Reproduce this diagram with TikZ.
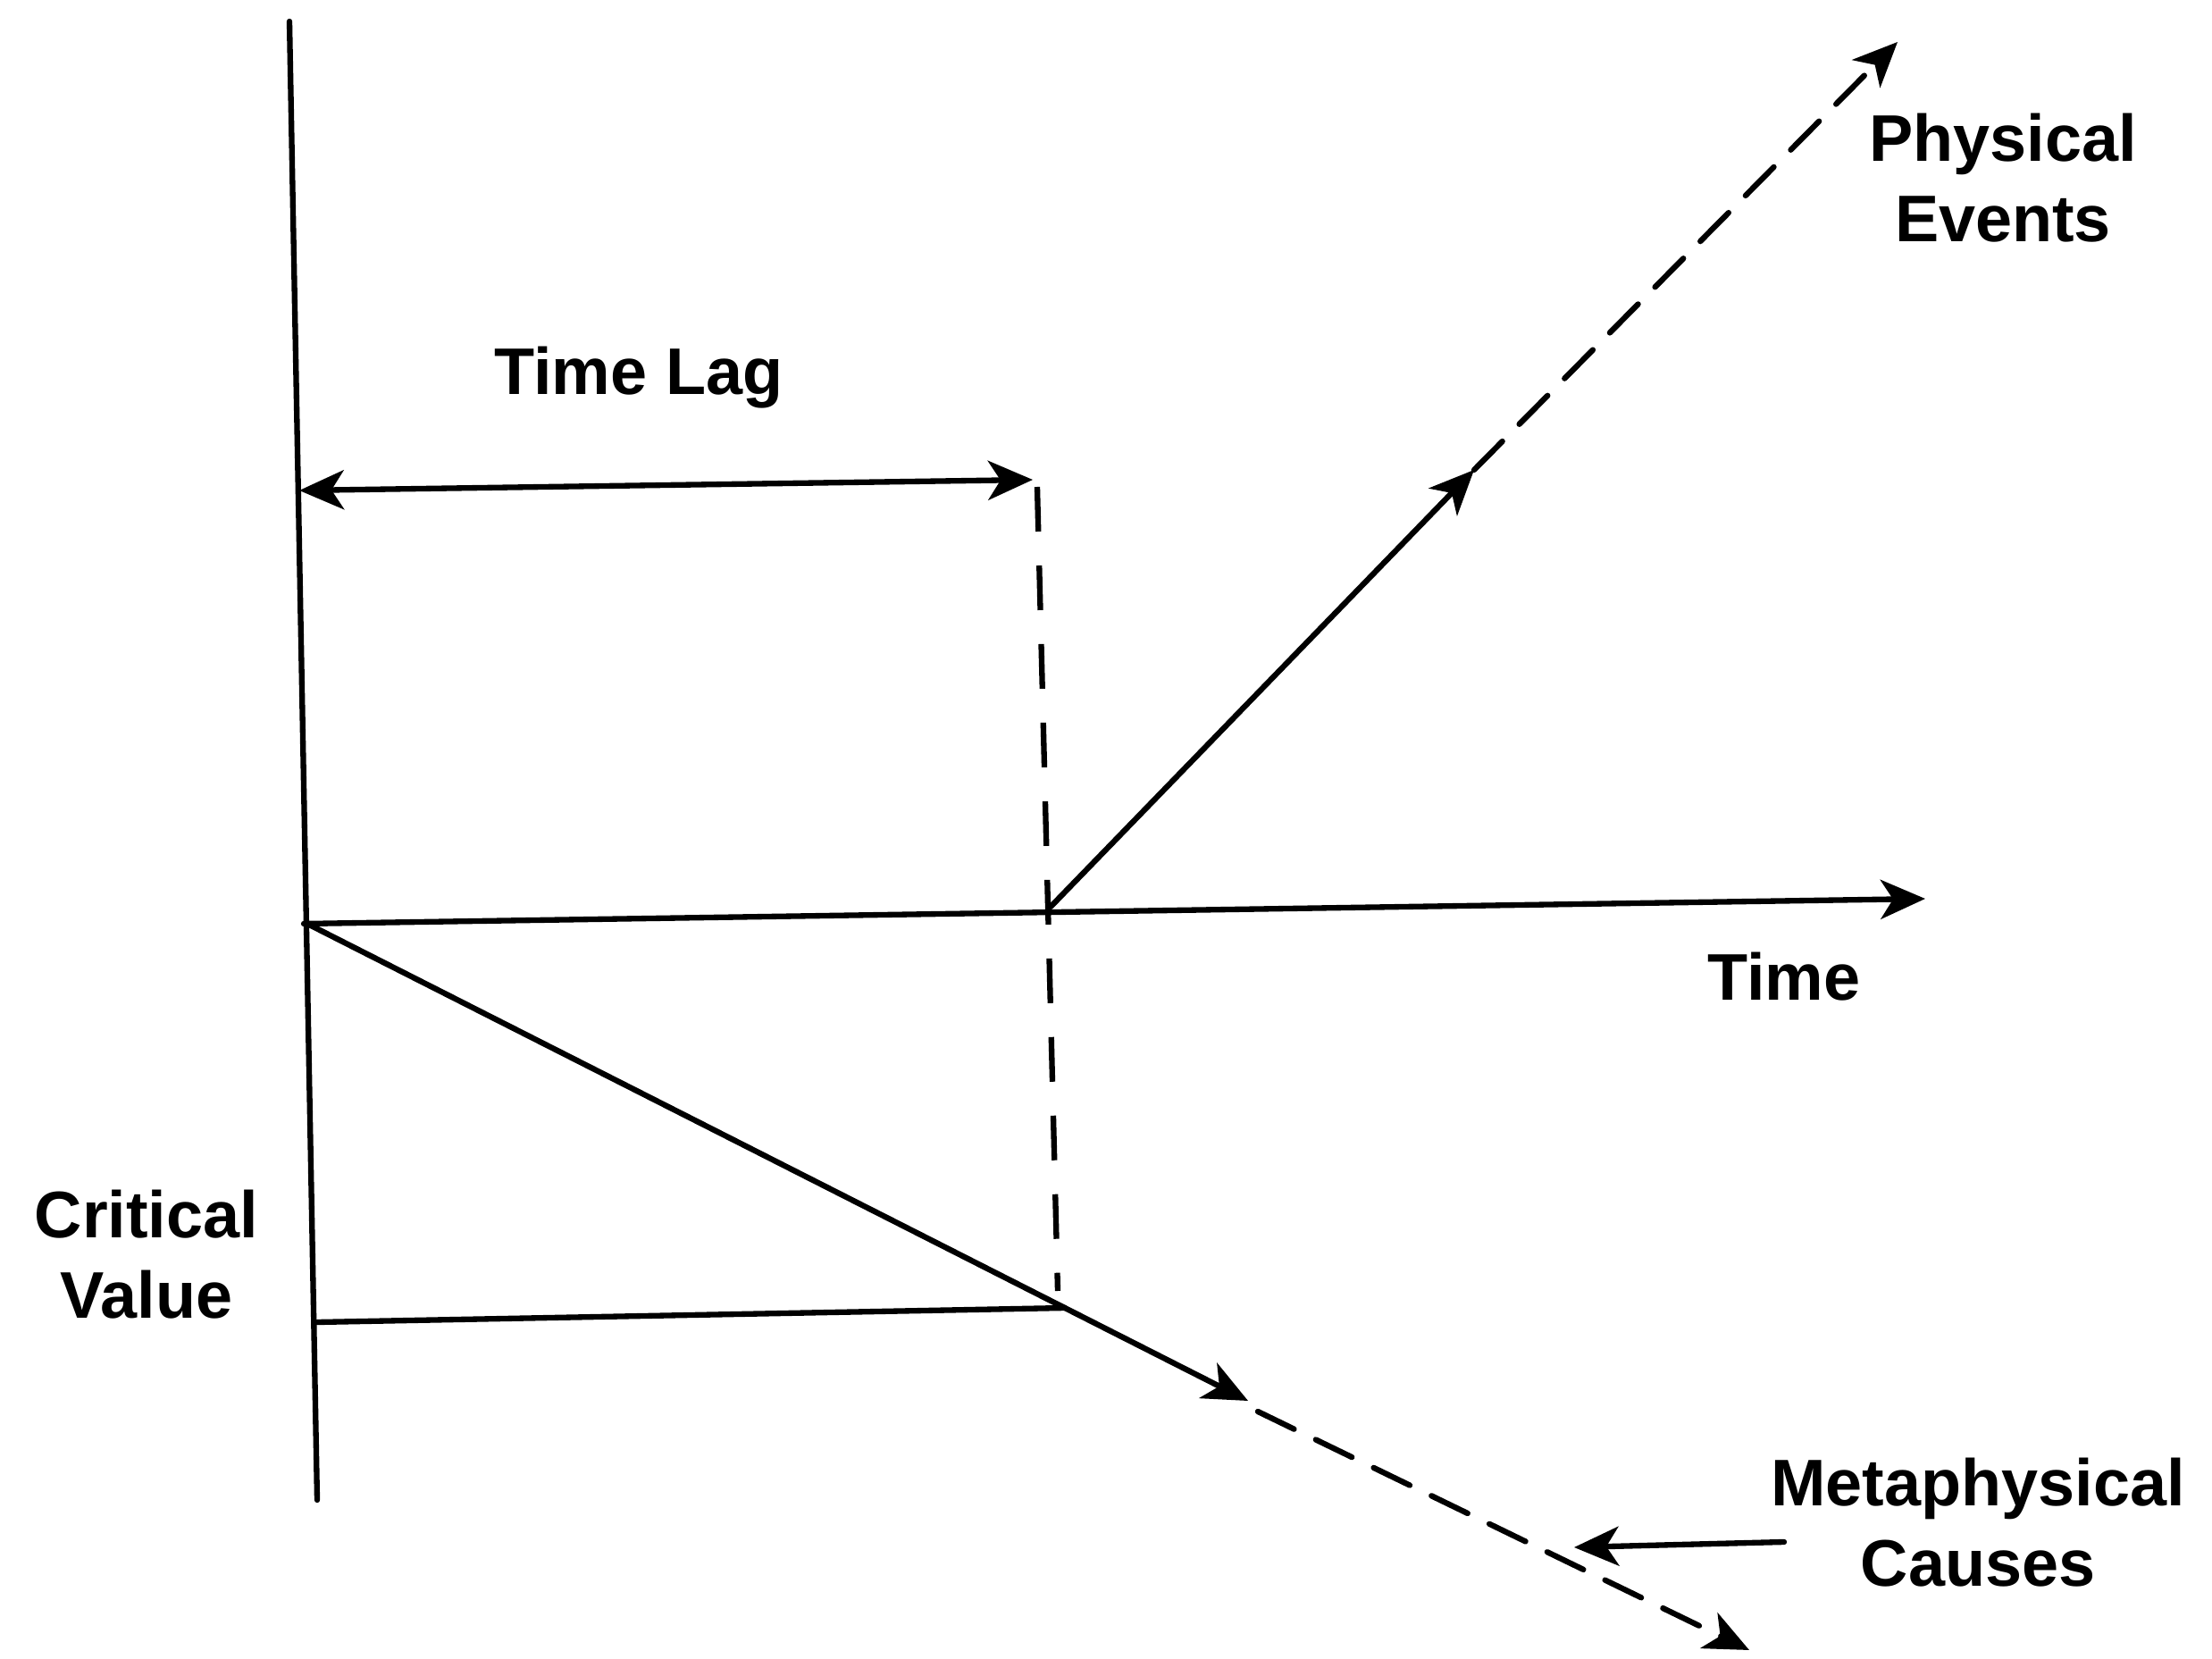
\documentclass[tikz,border=0pt]{standalone}
\usepackage{fontspec}
\setmainfont{Liberation Sans}
\usetikzlibrary{arrows.meta}
\begin{document}
\begin{tikzpicture}[
  ln/.style={line width=1.8pt, line cap=round},
  tip/.tip={Stealth[length=0.5cm, width=0.44cm, inset=0.14cm]},
  arr/.style={ln, -tip},
  darr/.style={ln, -tip, dash pattern=on 0.45cm off 0.27cm},
  dln/.style={ln, line cap=butt, dash pattern=on 0.5cm off 0.38cm},
  lbl/.style={font=\bfseries\fontsize{21}{25.5}\selectfont, align=center, inner sep=0pt}
]
\useasboundingbox (0,0) rectangle (24.76,-18.57);
% coordinates
\coordinate (Vtop) at (3.24,-0.24);
\coordinate (Vbot) at (3.55,-16.79);
\coordinate (T0) at (3.40,-10.34);
\coordinate (Tend) at (21.55,-10.06);
\coordinate (L1) at (3.35,-5.49);
\coordinate (L2) at (11.56,-5.37);
\coordinate (D1) at (11.61,-5.45);
\coordinate (D2) at (11.84,-14.45);
\coordinate (P0) at (11.76,-10.15);
\coordinate (P1) at (16.50,-5.26);
\coordinate (P2) at (21.24,-0.47);
\coordinate (M0) at (3.44,-10.34);
\coordinate (M1) at (13.97,-15.68);
\coordinate (M2) at (14.08,-15.80);
\coordinate (M3) at (19.58,-18.47);
\coordinate (C1) at (3.55,-14.80);
\coordinate (C2) at (11.92,-14.64);
\coordinate (A1) at (19.97,-17.26);
\coordinate (A2) at (17.62,-17.32);
% axes
\draw[ln] (Vtop) -- (Vbot);
\draw[arr] (T0) -- (Tend);
% time lag
\draw[ln, tip-tip] (L1) -- (L2);
\draw[dln] (D1) -- (D2);
% physical events
\draw[arr] (P0) -- (P1);
\draw[darr] (P1) -- (P2);
% metaphysical causes
\draw[arr] (M0) -- (M1);
\draw[darr] (M2) -- (M3);
% critical value
\draw[ln] (C1) -- (C2);
\draw[arr] (A1) -- (A2);
% labels
\node[lbl] (timelag) at (7.15,-4.23) {Time Lag};
\node[lbl] (phys) at (22.42,-1.99) {Physical\\Events};
\node[lbl] (time) at (19.97,-10.93) {Time};
\node[lbl] (crit) at (1.64,-14.04) {Critical\\Value};
\node[lbl] (meta) at (22.14,-17.04) {Metaphysical\\Causes};
\end{tikzpicture}
\end{document}
